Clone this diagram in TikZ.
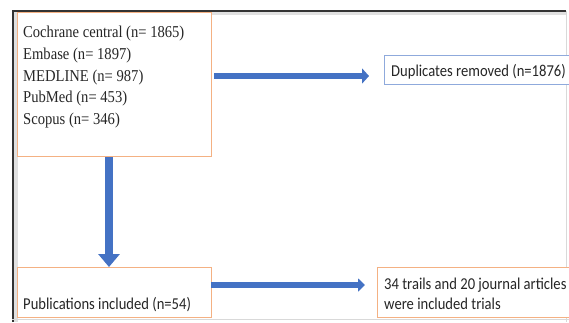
\documentclass[tikz,border=0pt]{standalone}
\usepackage{fontspec}
\setmainfont{Liberation Serif}[FakeStretch=0.88]
\newfontfamily\calfont{Carlito}[FakeStretch=0.88]
\usetikzlibrary{arrows.meta}
\definecolor{boxorange}{HTML}{F4B183}
\definecolor{boxblue}{HTML}{8FAADC}
\definecolor{arrowblue}{HTML}{4472C4}
\definecolor{txt}{HTML}{262626}
\tikzset{
  obox/.style={draw=boxorange, line width=1pt, fill=white, inner sep=0pt, anchor=north west},
  bbox/.style={draw=boxblue, line width=1pt, fill=white, inner sep=0pt, anchor=north west},
  sertext/.style={inner sep=0pt, text=txt, align=left, font=\fontsize{16.6}{21.6}\selectfont},
  caltext/.style={inner sep=0pt, text=txt, align=left, font=\calfont\fontsize{16.6}{19.8}\selectfont},
  barrow/.style={draw=arrowblue, line width=6pt, -{Triangle[length=7pt,width=15pt]}},
  varrow/.style={draw=arrowblue, line width=8pt, -{Triangle[length=13pt,width=21pt]}},
}
\begin{document}
\begin{tikzpicture}[x=1pt,y=-1pt]
\useasboundingbox (0,0) rectangle (569,322);
\clip (0,0) rectangle (569,322);
% screenshot frame
\fill[white] (0,0) rectangle (569,322);
\fill[black!12] (14,12) rectangle (18,322);
\fill[black!12] (14,12) rectangle (566,15);
\draw[black!80, line width=2pt] (12.5,322) -- (12.5,10.5) -- (566,10.5);
\draw[black!15, line width=1pt] (566,11) -- (566,322);
\draw[black!15, line width=1pt] (12,319.5) -- (569,319.5);
% boxes
\node[obox, minimum width=194pt, minimum height=144pt] (src) at (17,12) {};
\node[bbox, minimum width=200pt, minimum height=29pt] (dup) at (384,55) {};
\node[obox, minimum width=194pt, minimum height=50pt] (pub) at (17,267) {};
\node[obox, minimum width=200pt, minimum height=50pt] (fin) at (377,267) {};
% texts
\node[sertext, anchor=north west] (srctxt) at (23,26.2) {Cochrane central (n= 1865)\\Embase (n= 1897)\\MEDLINE (n= 987)\\PubMed (n= 453)\\Scopus (n= 346)};
\node[caltext, anchor=base west] (duptxt) at (391,76) {Duplicates removed (n=1876)};
\node[caltext, anchor=base west] (pubtxt) at (23,309) {Publications included (n=54)};
\node[caltext, anchor=north west] (fintxt) at (384,277.5) {34 trails and 20 journal articles\\were included trials};
% connectors
\coordinate (a1s) at (214,76);
\coordinate (a1e) at (369,76);
\coordinate (a2s) at (109,157);
\coordinate (a2e) at (109,267);
\coordinate (a3s) at (211,285);
\coordinate (a3e) at (365,285);
\draw[barrow] (a1s) -- (a1e);
\draw[varrow] (a2s) -- (a2e);
\draw[barrow, -{Triangle[length=7pt,width=13pt]}] (a3s) -- (a3e);
\end{tikzpicture}
\end{document}
